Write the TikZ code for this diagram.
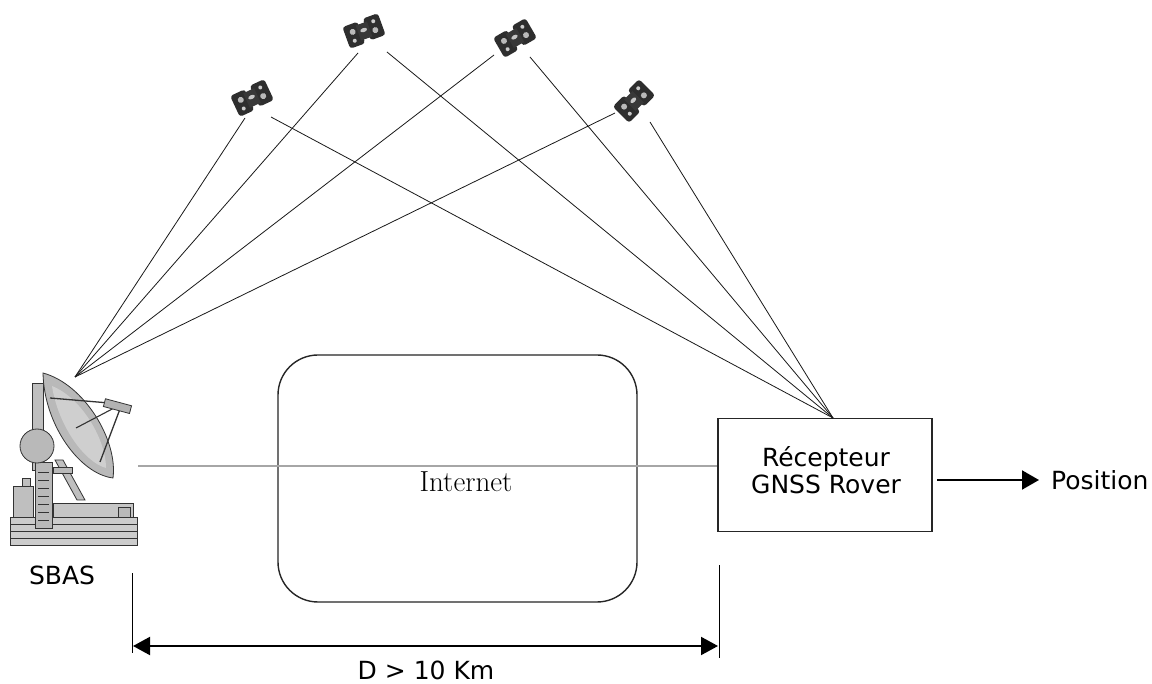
\documentclass[tikz,border=0pt]{standalone}
\usepackage{fontspec}
\newfontfamily\labelfont{DejaVu Sans}
\usetikzlibrary{arrows.meta}

% small satellite icon: two solar panels around a body
\tikzset{
  satellite/.pic={
    \fill[black!82, rounded corners=3pt] (-19,-11) rectangle (-3,12);
    \fill[black!82, rounded corners=3pt] (3,-12) rectangle (19,11);
    \fill[black!78] (-6,-8) rectangle (6,8);
    \fill[gray!55] (-11,-3) circle (3);
    \fill[gray!55] (11,3) circle (3);
    \fill[gray!45] (0,-1) ellipse (3.5 and 2);
    \fill[gray!40] (-12,6) circle (2);
    \fill[gray!40] (12,-6) circle (2);
  }
}

\begin{document}
\begin{tikzpicture}[x=1pt,y=-1pt,
  signal/.style={line width=0.8pt, black!90},
  lbl/.style={font=\labelfont\fontsize{25}{29}\selectfont, inner sep=0pt, text=black},
  frame/.style={draw=black!85, line width=1.4pt},
  link/.style={draw=gray!70, line width=1.8pt},
  tick/.style={draw=black, line width=1pt},
  part/.style={draw=black!80, line width=0.8pt},
  outarrow/.style={line width=2pt, -{Triangle[length=17pt,width=19pt]}},
  dimarrow/.style={line width=2pt, {Triangle[length=17pt,width=18pt]}-{Triangle[length=17pt,width=18pt]}}]

\useasboundingbox (0,0) rectangle (1152,684);
\fill[white] (0,0) rectangle (1152,684);

% ---------- ground station antenna ----------
\filldraw[part, fill=gray!40] (10,517) rectangle (137,545);
\draw[part] (10,524) -- (137,524) (10,531) -- (137,531) (10,538) -- (137,538);
\filldraw[part, fill=gray!45] (53,503) rectangle (133,517);
\filldraw[part, fill=gray!55] (118,507) rectangle (130,517);
\filldraw[part, fill=gray!50] (13,486) rectangle (33,517);
\filldraw[part, fill=gray!50] (22,478) rectangle (30,486);
\filldraw[part, fill=gray!50] (32,383) rectangle (43,470);
\filldraw[part, fill=gray!55] (35,462) rectangle (52,528);
\foreach \yy in {472,480,488,496,504,512,520}
  \draw[part] (38,\yy) -- (49,\yy);
\filldraw[part, fill=gray!50] (55,460) -- (63,460) -- (85,500) -- (77,500) -- cycle;
\filldraw[part, fill=gray!55] (53,467) rectangle (72,473);
\filldraw[part, fill=gray!55] (37,446) circle (17);
% dish
\filldraw[part, fill=gray!55] (43,373) .. controls (84,384) and (118,440) .. (113,478)
  .. controls (80,474) and (44,425) .. cycle;
\fill[gray!38] (52,386) .. controls (82,398) and (106,440) .. (106,468)
  .. controls (84,462) and (58,425) .. cycle;
% feed struts and horn
\draw[black!80, line width=1.3pt] (50,398) -- (121,404);
\draw[black!80, line width=1.3pt] (100,462) -- (120,409);
\draw[black!80, line width=1.1pt] (76,428) -- (116,407);
\filldraw[part, fill=gray!60, rotate around={-15:(117,406)}] (104,402) rectangle (131,410);
\coordinate (sbasfocus) at (75,377);
\coordinate (linkstart) at (138,466);
\node[lbl] (sbas) at (62,575) {SBAS};

% ---------- satellites ----------
\pic[rotate=25] (sat1) at (252,98) {satellite};
\pic[rotate=20] (sat2) at (364,31) {satellite};
\pic[rotate=30] (sat3) at (515,38) {satellite};
\pic[rotate=45] (sat4) at (634,101) {satellite};

\coordinate (s1a) at (245,118);  \coordinate (s1b) at (271,117);
\coordinate (s2a) at (358,53);   \coordinate (s2b) at (387,52);
\coordinate (s3a) at (494,55);   \coordinate (s3b) at (530,57);
\coordinate (s4a) at (615,113);  \coordinate (s4b) at (650,122);

% ---------- network and receiver ----------
\node[frame, rounded corners=40pt, minimum width=359pt, minimum height=247pt, inner sep=0pt]
  (net) at (457.5,478.5) {};
\node[font=\fontsize{29}{33}\selectfont, inner sep=0pt] (netlabel) at (466,482) {Internet};

\node[frame, minimum width=214pt, minimum height=113pt, inner sep=0pt, fill=white]
  (rx) at (825,475) {};
\node[lbl, align=center] (rxlabel) at (826,470) {Récepteur\\[-2pt]GNSS Rover};
\coordinate (rxfocus) at (833,418);

\draw[link] (linkstart) -- (linkstart -| rx.west);

% ---------- signal paths ----------
\foreach \s in {s1a,s2a,s3a,s4a}
  \draw[signal] (\s) -- (sbasfocus);
\foreach \s in {s1b,s2b,s3b,s4b}
  \draw[signal] (\s) -- (rxfocus);

% ---------- output ----------
\coordinate (outstart) at (937,480);
\node[lbl, anchor=west, inner xsep=12pt] (pos) at (1039,480) {Position};
\draw[outarrow] (outstart) -- (pos.west);

% ---------- distance ----------
\coordinate (dlt) at (132,573); \coordinate (dlb) at (132,653);
\coordinate (drt) at (719,565); \coordinate (drb) at (719,658);
\draw[tick] (dlt) -- (dlb);
\draw[tick] (drt) -- (drb);
\coordinate (da) at (133,646); \coordinate (db) at (718,646);
\draw[dimarrow] (da) -- (db);
\node[lbl] (dist) at (426,670) {D > 10 Km};

\end{tikzpicture}
\end{document}
